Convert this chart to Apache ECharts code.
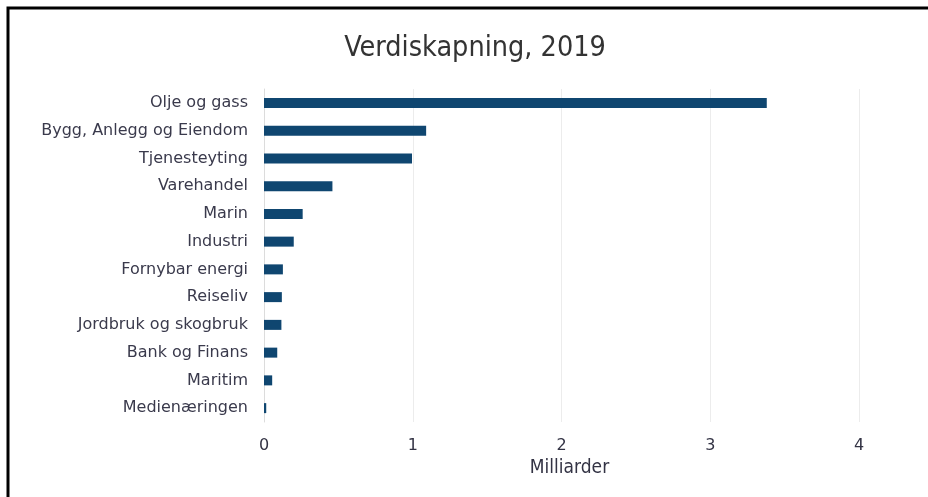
<!DOCTYPE html>
<html>
<head>
<meta charset="utf-8">
<script src="https://cdn.jsdelivr.net/npm/echarts@6/dist/echarts.min.js"></script>
<style>
  html, body { margin: 0; padding: 0; background: #fff; }
  #chart { width: 928px; height: 497px; }
</style>
</head>
<body>
<div id="chart"></div>
<script>
// bransjer, ovenfra og ned
const kategorier = [
  "Olje og gass",
  "Bygg, Anlegg og Eiendom",
  "Tjenesteyting",
  "Varehandel",
  "Marin",
  "Industri",
  "Fornybar energi",
  "Reiseliv",
  "Jordbruk og skogbruk",
  "Bank og Finans",
  "Maritim",
  "Medienæringen"
];
// milliarder kroner
const verdier = [3.38, 1.09, 0.995, 0.46, 0.26, 0.2, 0.127, 0.12, 0.117, 0.089, 0.055, 0.015];
const akseTicks = [0, 1, 2, 3, 4];

var dom = document.getElementById("chart");
var myChart = echarts.init(dom, null, { renderer: "canvas" });

var option = {
  animation: false,
  title: {
    text: "Verdiskapning, 2019",
    left: 470,
    textAlign: "center",
    top: 29,
    textStyle: {
      fontFamily: "DejaVu Sans Condensed",
      fontSize: 28.5,
      fontWeight: "normal",
      color: "#333333"
    }
  },
  graphic: [
    {
      type: "polyline",
      shape: { points: [[8, 497], [8, 8], [928, 8]] },
      style: { stroke: "#000", lineWidth: 3, fill: null }
    }
  ],
  grid: {
    left: 264,
    right: 69,
    top: 89,
    bottom: 75
  },
  xAxis: {
    type: "value",
    min: akseTicks[0],
    max: akseTicks[akseTicks.length - 1],
    interval: 1,
    name: "Milliarder",
    nameLocation: "middle",
    nameGap: 37,
    nameTextStyle: {
      fontFamily: "DejaVu Sans Condensed",
      fontSize: 19,
      color: "#333344",
      padding: [0, 0, 0, 16]
    },
    axisLine: { show: false },
    axisTick: { show: false },
    axisLabel: {
      margin: 16,
      fontFamily: "DejaVu Sans",
      fontSize: 16,
      color: "#333344"
    },
    splitLine: { lineStyle: { color: "#ececec", width: 1 } }
  },
  yAxis: {
    type: "category",
    inverse: true,
    data: kategorier,
    axisLine: { show: true, lineStyle: { color: "#dcdcdc" } },
    axisTick: { show: false },
    axisLabel: {
      margin: 16,
      fontFamily: "DejaVu Sans",
      fontSize: 16,
      color: "#3a3a4c"
    }
  },
  series: [
    {
      type: "bar",
      data: verdier,
      barWidth: 10,
      itemStyle: { color: "#0f4670" }
    }
  ]
};

myChart.setOption(option);
window.addEventListener("resize", myChart.resize);
</script>
</body>
</html>
